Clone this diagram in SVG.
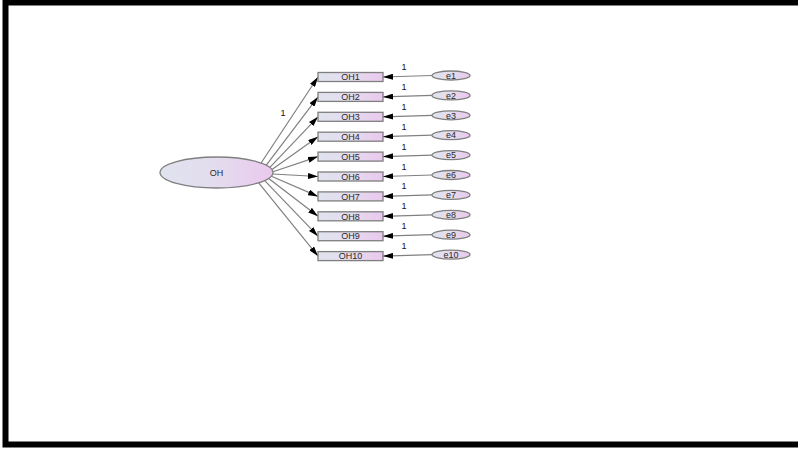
<svg xmlns="http://www.w3.org/2000/svg" width="798" height="450" viewBox="0 0 798 450">
<defs>
<linearGradient id="g" x1="0" y1="0" x2="1" y2="0">
<stop offset="0" stop-color="#e0e3ee"/>
<stop offset="0.5" stop-color="#e4dcee"/>
<stop offset="1" stop-color="#eac8ee"/>
</linearGradient>
<marker id="arr" viewBox="0 0 10 6" refX="10" refY="3" markerWidth="10" markerHeight="6" markerUnits="userSpaceOnUse" orient="auto">
<path d="M0,0 L10,3 L0,6 z" fill="#000"/>
</marker>
</defs>
<style>
.ell{fill:url(#g);stroke:#7f7f7f;stroke-width:1.3}
.box{fill:url(#g);stroke:#7f7f7f;stroke-width:1.3}
.t{font-family:"Liberation Sans",Arial,sans-serif;font-size:9px;fill:#2a2a2a;text-anchor:middle}
.lbl{font-family:"Liberation Sans",Arial,sans-serif;font-size:9px;fill:#111;text-anchor:middle}
.c{stroke:#808080;stroke-width:1.2;fill:none;marker-end:url(#arr)}
</style>
<rect width="798" height="450" fill="#fff"/>
<path d="M798,2.5 H5.5 V444.5 H798" fill="none" stroke="#000" stroke-width="6"/>
<g id="connectors">
<line class="c" x1="261.1" y1="163" x2="318" y2="77"/>
<line class="c" x1="266.3" y1="165.2" x2="318" y2="96.9"/>
<line class="c" x1="269.9" y1="167.4" x2="318" y2="116.8"/>
<line class="c" x1="272" y1="169.6" x2="318" y2="136.7"/>
<line class="c" x1="273" y1="171.8" x2="318" y2="156.6"/>
<line class="c" x1="272.7" y1="174" x2="318" y2="176.5"/>
<line class="c" x1="271.4" y1="176.2" x2="318" y2="196.4"/>
<line class="c" x1="268.7" y1="178.4" x2="318" y2="216.3"/>
<line class="c" x1="264.7" y1="180.6" x2="318" y2="236.2"/>
<line class="c" x1="258.7" y1="182.8" x2="318" y2="256.1"/>
<line class="c" x1="432" y1="75.5" x2="383" y2="77"/>
<line class="c" x1="432" y1="95.4" x2="383" y2="96.9"/>
<line class="c" x1="432" y1="115.3" x2="383" y2="116.8"/>
<line class="c" x1="432" y1="135.2" x2="383" y2="136.7"/>
<line class="c" x1="432" y1="155.1" x2="383" y2="156.6"/>
<line class="c" x1="432" y1="175" x2="383" y2="176.5"/>
<line class="c" x1="432" y1="194.9" x2="383" y2="196.4"/>
<line class="c" x1="432" y1="214.8" x2="383" y2="216.3"/>
<line class="c" x1="432" y1="234.7" x2="383" y2="236.2"/>
<line class="c" x1="432" y1="254.6" x2="383" y2="256.1"/>
<text class="lbl" x="283" y="116">1</text>
<text class="lbl" x="404" y="70">1</text>
<text class="lbl" x="404" y="89.9">1</text>
<text class="lbl" x="404" y="109.8">1</text>
<text class="lbl" x="404" y="129.7">1</text>
<text class="lbl" x="404" y="149.6">1</text>
<text class="lbl" x="404" y="169.5">1</text>
<text class="lbl" x="404" y="189.4">1</text>
<text class="lbl" x="404" y="209.3">1</text>
<text class="lbl" x="404" y="229.2">1</text>
<text class="lbl" x="404" y="249.1">1</text>
</g>
<g id="OH"><ellipse class="ell" cx="216.5" cy="172.5" rx="56.5" ry="15.5"/><text class="t" x="216.5" y="175.5">OH</text></g>
<g id="OH1"><rect class="box" x="318" y="72.5" width="65" height="9"/><text class="t" x="350.5" y="80.2">OH1</text></g>
<g id="OH2"><rect class="box" x="318" y="92.4" width="65" height="9"/><text class="t" x="350.5" y="100.1">OH2</text></g>
<g id="OH3"><rect class="box" x="318" y="112.3" width="65" height="9"/><text class="t" x="350.5" y="120">OH3</text></g>
<g id="OH4"><rect class="box" x="318" y="132.2" width="65" height="9"/><text class="t" x="350.5" y="139.9">OH4</text></g>
<g id="OH5"><rect class="box" x="318" y="152.1" width="65" height="9"/><text class="t" x="350.5" y="159.8">OH5</text></g>
<g id="OH6"><rect class="box" x="318" y="172" width="65" height="9"/><text class="t" x="350.5" y="179.7">OH6</text></g>
<g id="OH7"><rect class="box" x="318" y="191.9" width="65" height="9"/><text class="t" x="350.5" y="199.6">OH7</text></g>
<g id="OH8"><rect class="box" x="318" y="211.8" width="65" height="9"/><text class="t" x="350.5" y="219.5">OH8</text></g>
<g id="OH9"><rect class="box" x="318" y="231.7" width="65" height="9"/><text class="t" x="350.5" y="239.4">OH9</text></g>
<g id="OH10"><rect class="box" x="318" y="251.6" width="65" height="9"/><text class="t" x="350.5" y="259.3">OH10</text></g>
<g id="e1"><ellipse class="ell" cx="451" cy="75.5" rx="19" ry="4.5"/><text class="t" x="451" y="78.7">e1</text></g>
<g id="e2"><ellipse class="ell" cx="451" cy="95.4" rx="19" ry="4.5"/><text class="t" x="451" y="98.6">e2</text></g>
<g id="e3"><ellipse class="ell" cx="451" cy="115.3" rx="19" ry="4.5"/><text class="t" x="451" y="118.5">e3</text></g>
<g id="e4"><ellipse class="ell" cx="451" cy="135.2" rx="19" ry="4.5"/><text class="t" x="451" y="138.4">e4</text></g>
<g id="e5"><ellipse class="ell" cx="451" cy="155.1" rx="19" ry="4.5"/><text class="t" x="451" y="158.3">e5</text></g>
<g id="e6"><ellipse class="ell" cx="451" cy="175" rx="19" ry="4.5"/><text class="t" x="451" y="178.2">e6</text></g>
<g id="e7"><ellipse class="ell" cx="451" cy="194.9" rx="19" ry="4.5"/><text class="t" x="451" y="198.1">e7</text></g>
<g id="e8"><ellipse class="ell" cx="451" cy="214.8" rx="19" ry="4.5"/><text class="t" x="451" y="218">e8</text></g>
<g id="e9"><ellipse class="ell" cx="451" cy="234.7" rx="19" ry="4.5"/><text class="t" x="451" y="237.9">e9</text></g>
<g id="e10"><ellipse class="ell" cx="451" cy="254.6" rx="19" ry="4.5"/><text class="t" x="451" y="257.8">e10</text></g>
</svg>
